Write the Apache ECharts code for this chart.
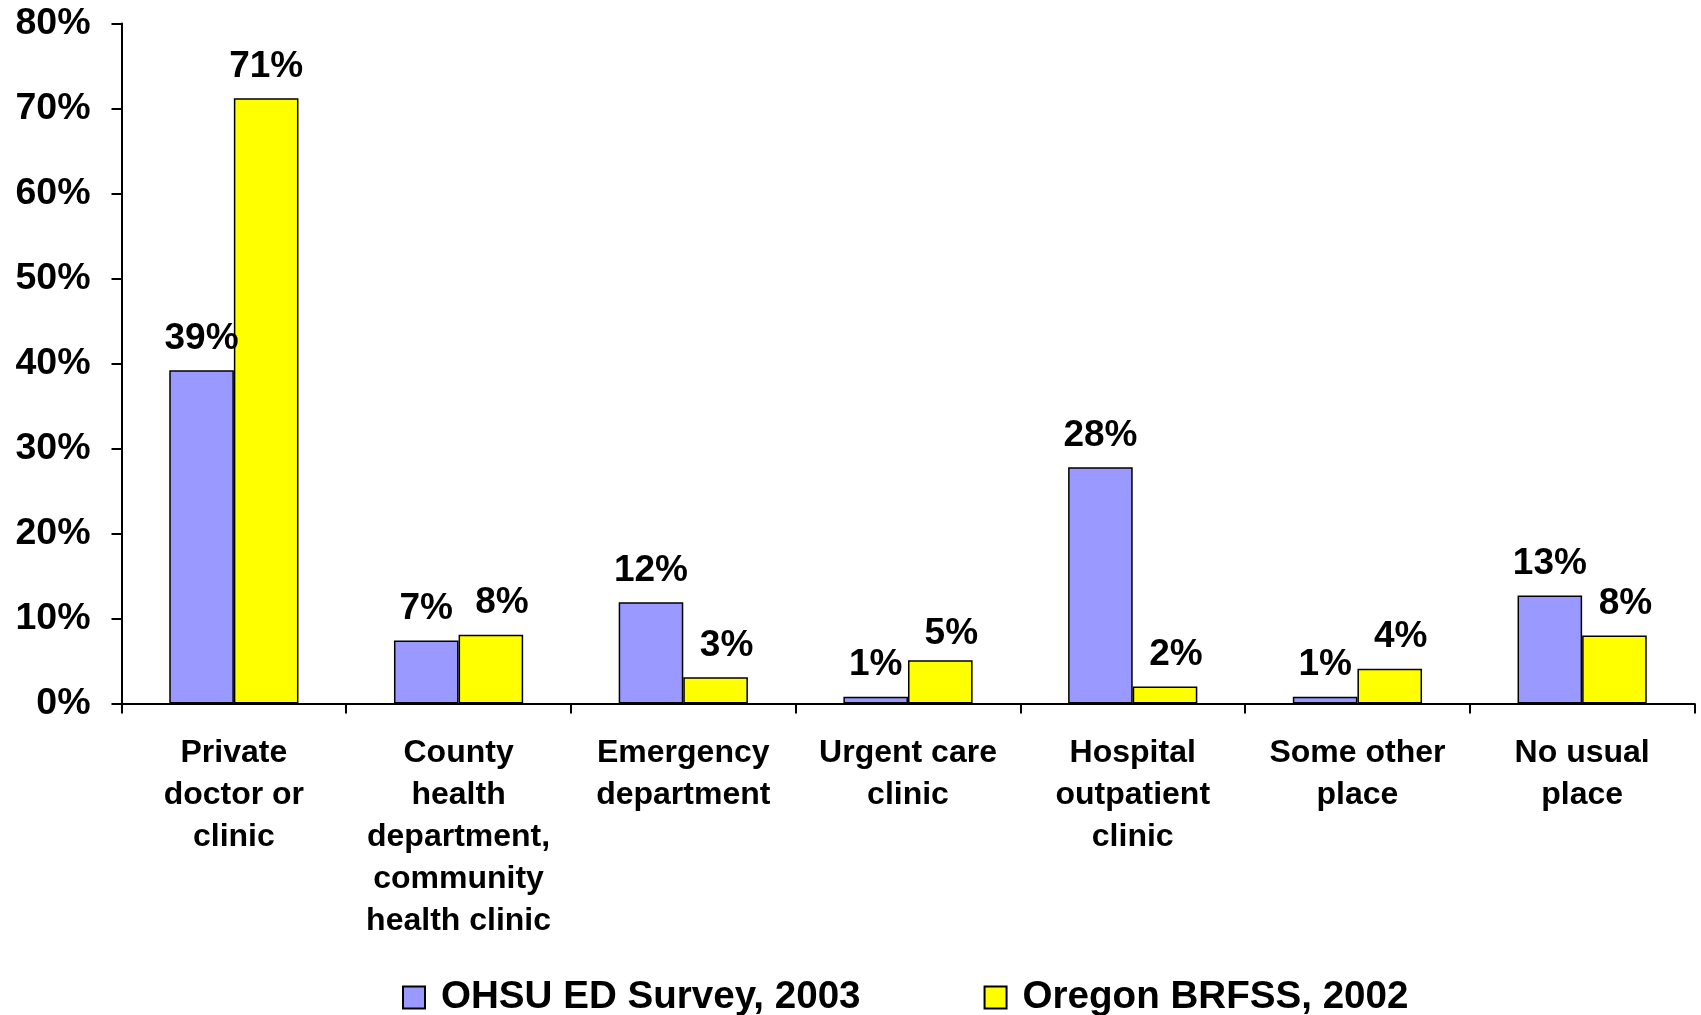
<!DOCTYPE html>
<html>
<head>
<meta charset="utf-8">
<script src="https://cdn.jsdelivr.net/npm/echarts@6/dist/echarts.min.js"></script>
<style>
html,body{margin:0;padding:0;background:#fff;}
#chart{width:1701px;height:1015px;}
</style>
</head>
<body>
<div id="chart"></div>
<script>
var categories = [
  "Private\ndoctor or\nclinic",
  "County\nhealth\ndepartment,\ncommunity\nhealth clinic",
  "Emergency\ndepartment",
  "Urgent care\nclinic",
  "Hospital\noutpatient\nclinic",
  "Some other\nplace",
  "No usual\nplace"
];
var seriesNames = ["OHSU ED Survey, 2003", "Oregon BRFSS, 2002"];
var ohsuValues = [39.2, 7.4, 11.9, 0.8, 27.8, 0.8, 12.7];
var brfssValues = [71.2, 8.1, 3.1, 5.1, 2.0, 4.1, 8.0];
var yTicks = [0, 10, 20, 30, 40, 50, 60, 70, 80];

// label nudges (style only): yellow labels sit slightly right of bar centre in the original
var brfssLabelOffsets = [[0, 0], [11, 0], [11, 0], [11, 5], [11, 0], [11, 0], [11, 0]];

var FONT = '"Liberation Sans", Arial, sans-serif';
var chart = echarts.init(document.getElementById('chart'), null, {renderer: 'canvas'});

function labelCfg(offset) {
  return {
    show: true,
    position: 'top',
    distance: 13,
    offset: offset,
    formatter: function (p) { return Math.round(p.value) + '%'; },
    fontFamily: FONT,
    fontWeight: 'bold',
    fontSize: 37,
    color: '#000'
  };
}

var brfssData = brfssValues.map(function (v, i) {
  return {value: v, label: {offset: brfssLabelOffsets[i]}};
});

chart.setOption({
  backgroundColor: '#ffffff',
  animation: false,
  grid: {left: 121.5, right: 6.5, top: 23.5, bottom: 311.5, containLabel: false},
  legend: {
    left: 397,
    top: 973,
    itemWidth: 22,
    itemHeight: 22,
    itemGap: 123,
    icon: 'rect',
    textStyle: {fontFamily: FONT, fontWeight: 'bold', fontSize: 38.6, color: '#000', padding: [0, 0, 0, 11]},
    data: seriesNames
  },
  xAxis: {
    type: 'category',
    data: categories,
    axisLine: {lineStyle: {color: '#000', width: 2}},
    axisTick: {show: true, alignWithLabel: false, length: 10, lineStyle: {color: '#000', width: 2}},
    axisLabel: {
      interval: 0,
      margin: 29,
      fontFamily: FONT,
      fontWeight: 'bold',
      fontSize: 32,
      lineHeight: 42,
      color: '#000',
      align: 'center'
    },
    splitLine: {show: false}
  },
  yAxis: {
    type: 'value',
    min: yTicks[0],
    max: yTicks[yTicks.length - 1],
    interval: 10,
    axisLine: {show: true, lineStyle: {color: '#000', width: 2}},
    axisTick: {show: true, length: 10, lineStyle: {color: '#000', width: 2}},
    axisLabel: {
      margin: 31,
      formatter: '{value}%',
      fontFamily: FONT,
      fontWeight: 'bold',
      fontSize: 37.5,
      color: '#000',
      padding: [4, 0, 0, 0]
    },
    splitLine: {show: false}
  },
  series: [
    {
      name: seriesNames[0],
      type: 'bar',
      data: ohsuValues,
      barGap: '0%',
      barCategoryGap: '42.5%',
      itemStyle: {color: '#9999FF', borderColor: '#000', borderWidth: 1.5},
      label: labelCfg([0, 0])
    },
    {
      name: seriesNames[1],
      type: 'bar',
      data: brfssData,
      barGap: '0%',
      barCategoryGap: '42.5%',
      itemStyle: {color: '#FFFF00', borderColor: '#000', borderWidth: 1.5},
      label: labelCfg([11, 0])
    }
  ]
});
</script>
</body>
</html>
